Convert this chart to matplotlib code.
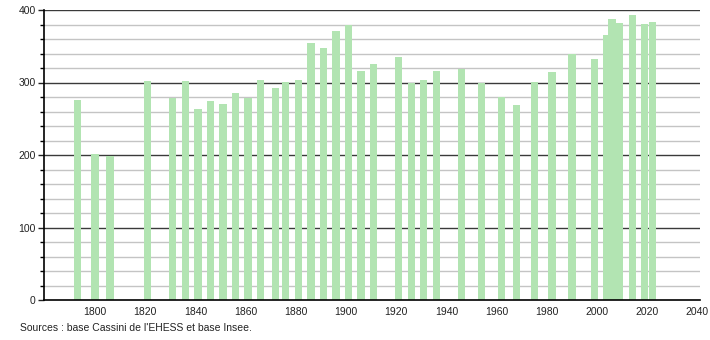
import numpy as np
import matplotlib.pyplot as plt
from matplotlib.ticker import MultipleLocator

# Population par année de recensement
annees = [1793, 1800, 1806, 1821, 1831, 1836, 1841, 1846, 1851, 1856,
          1861, 1866, 1872, 1876, 1881, 1886, 1891, 1896, 1901, 1906,
          1911, 1921, 1926, 1931, 1936, 1946, 1954, 1962, 1968, 1975,
          1982, 1990, 1999, 2004, 2006, 2009, 2014, 2019, 2022]
population = [276, 202, 199, 302, 278, 302, 263, 274, 271, 285,
              278, 304, 293, 301, 304, 354, 347, 371, 380, 316,
              326, 335, 299, 304, 316, 319, 299, 280, 269, 301,
              314, 339, 332, 366, 387, 382, 393, 381, 384]
xticks = [1800, 1820, 1840, 1860, 1880, 1900, 1920, 1940, 1960, 1980, 2000, 2020, 2040]

plt.rcParams['font.family'] = ['Liberation Sans', 'DejaVu Sans']

fig = plt.figure(figsize=(7.1, 3.4), dpi=100)
ax = fig.add_axes([44 / 710, 40 / 340, 656 / 710, 290 / 340])

ax.bar(annees, population, width=2.9, color='#b2e4b2', zorder=3)

ax.set_xlim(1779.7, 2041)
ax.set_ylim(0, 400)
ax.set_xticks(xticks)
ax.set_yticks([0, 100, 200, 300, 400])
ax.yaxis.set_minor_locator(MultipleLocator(20))

# Grille : traits foncés tous les 100, clairs tous les 20
for y in range(20, 401, 20):
    if y % 100 == 0:
        ax.axhline(y, color='#3a3a3a', lw=1.0, zorder=1)
    else:
        ax.axhline(y, color='#c4c4c4', lw=1.0, zorder=1)

for s in ['top', 'right']:
    ax.spines[s].set_visible(False)
ax.spines['left'].set_linewidth(1.2)
ax.spines['bottom'].set_linewidth(1.2)
ax.spines['left'].set_zorder(4)
ax.spines['bottom'].set_zorder(4)

ax.tick_params(axis='x', length=0, labelsize=7.5, pad=5, colors='#222222')
ax.tick_params(axis='y', which='major', length=4, width=1, labelsize=7.5, pad=2, colors='#222222')
ax.tick_params(axis='y', which='minor', length=3, width=1)

fig.text(20 / 710, 1 - 328 / 340, "Sources : base Cassini de l'EHESS et base Insee.",
         fontsize=7.5, va='center', ha='left', color='#222222')

plt.savefig('out.png', dpi=100)
